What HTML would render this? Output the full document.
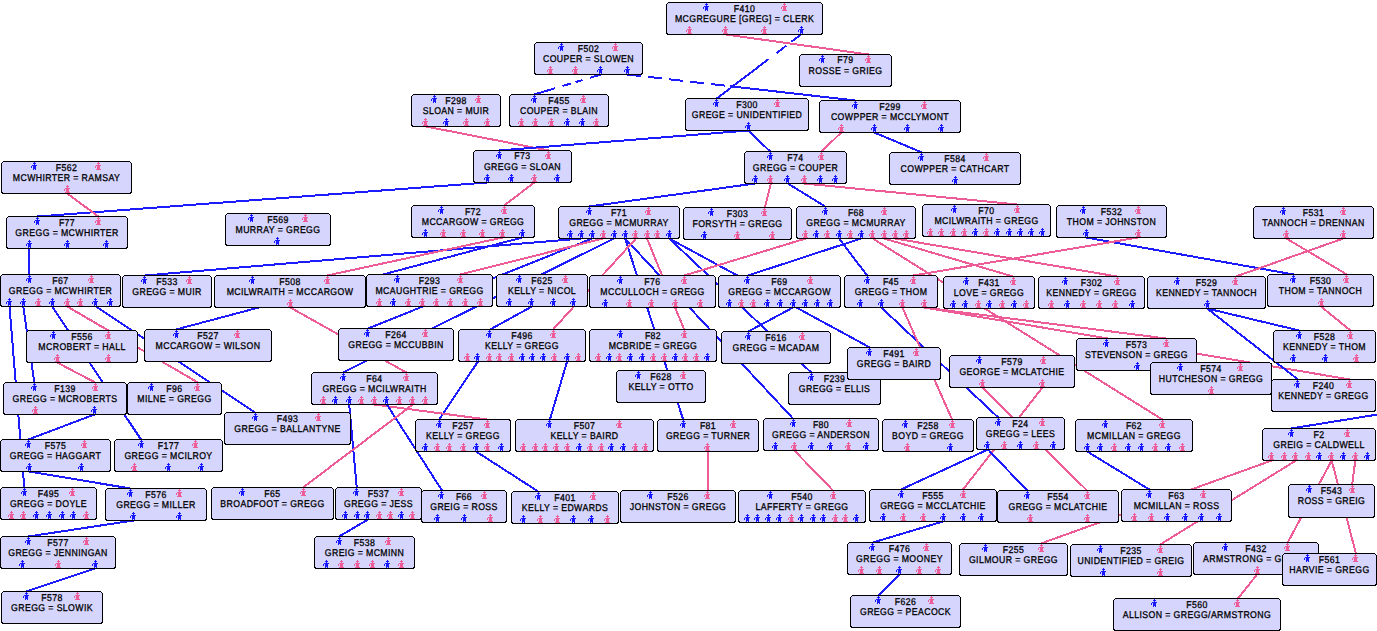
<!DOCTYPE html>
<html><head><meta charset="utf-8"><style>
html,body{margin:0;padding:0;background:#fff;width:1377px;height:631px;overflow:hidden}
text{text-rendering:geometricPrecision;font-family:"Liberation Sans",sans-serif;font-weight:normal;stroke:#000;stroke-width:0.3px;letter-spacing:0.45px;font-size:9.8px;fill:#000}
</style></head><body>
<svg width="1377" height="631" viewBox="0 0 1377 631" style="position:absolute;left:0;top:0"><defs><path id="m" d="M3 0h1v1h-1zM2 1h3v1h-3zM3 2h1v1h-1zM1 3h5v1h-5zM0 4h1v1h-1zM2 4h3v1h-3zM0 5h1v1h-1zM2 5h3v1h-3zM2 6h3v1h-3zM2 7h1v1h-1zM4 7h1v1h-1z" fill="#1818ff"/><path id="f" d="M3 0h1v1h-1zM2 1h3v1h-3zM3 2h1v1h-1zM1 3h5v1h-5zM0 4h1v1h-1zM2 4h3v1h-3zM0 5h1v1h-1zM2 5h3v1h-3zM2 6h3v1h-3zM1 7h5v1h-5z" fill="#ee5c98"/></defs><g fill="none" stroke-width="2" stroke-linecap="butt" shape-rendering="crispEdges"><path d="M725.8 34.5L868.5 54.5" stroke="#ee5c98"/><path d="M801.0 34.5L716.7 98.5" stroke="#1c1cff" stroke-dasharray="12 6.5 12 10 400"/><path d="M627.2 74.5L855.3 100.5" stroke="#1c1cff" stroke-dasharray="13.7 7.4 13.7 7.4 13.7 7.4 13.7 7.4 13.7 5.5 400"/><path d="M600.8 74.5L534.3 94.5" stroke="#1c1cff" stroke-dasharray="11.5 7.5 7.5 5 8.6 7.5 30"/><path d="M426.0 126.5L548.7 150.5" stroke="#ee5c98"/><path d="M748.1 130.5L499.2 150.5" stroke="#1c1cff"/><path d="M748.1 130.5L770.2 151.5" stroke="#1c1cff"/><path d="M841.2 132.5L821.6 151.5" stroke="#ee5c98"/><path d="M874.3 132.5L922.0 152.5" stroke="#1c1cff"/><path d="M487.5 182.5L37.5 216.5" stroke="#1c1cff"/><path d="M534.3 182.5L504.1 205.5" stroke="#ee5c98"/><path d="M67.2 193.5L98.4 216.5" stroke="#ee5c98"/><path d="M755.0 183.5L589.2 206.5" stroke="#1c1cff"/><path d="M770.9 183.5L764.8 207.5" stroke="#ee5c98"/><path d="M787.8 183.5L825.2 206.5" stroke="#1c1cff"/><path d="M804.3 183.5L1017.3 204.5" stroke="#ee5c98"/><path d="M29.2 248.5L29.3 274.5" stroke="#1c1cff"/><path d="M581.4 238.5L144.9 275.5" stroke="#1c1cff"/><path d="M592.2 238.5L368.0 328.5" stroke="#1c1cff"/><path d="M603.2 238.5L460.3 274.5" stroke="#ee5c98"/><path d="M614.1 238.5L343.0 372.5" stroke="#1c1cff"/><path d="M625.1 238.5L683.1 419.5" stroke="#1c1cff"/><path d="M625.1 238.5L793.0 418.5" stroke="#1c1cff"/><path d="M636.0 238.5L553.0 329.5" stroke="#ee5c98"/><path d="M647.0 238.5L684.1 329.5" stroke="#ee5c98"/><path d="M669.2 238.5L811.2 372.5" stroke="#1c1cff"/><path d="M669.2 238.5L869.9 347.5" stroke="#1c1cff"/><path d="M502.9 237.5L327.1 275.5" stroke="#ee5c98"/><path d="M522.2 237.5L176.1 329.5" stroke="#1c1cff"/><path d="M805.8 238.5L684.4 275.5" stroke="#ee5c98"/><path d="M839.0 238.5L867.1 275.5" stroke="#1c1cff"/><path d="M861.1 238.5L748.0 275.5" stroke="#1c1cff"/><path d="M884.1 238.5L1013.1 276.5" stroke="#ee5c98"/><path d="M895.1 238.5L1117.1 276.5" stroke="#ee5c98"/><path d="M1086.1 237.5L1293.8 274.5" stroke="#1c1cff"/><path d="M1138.2 237.5L913.2 275.5" stroke="#ee5c98"/><path d="M1286.4 238.5L1346.9 274.5" stroke="#ee5c98"/><path d="M1343.2 238.5L1235.8 276.5" stroke="#ee5c98"/><path d="M9.5 306.5L24.3 487.5" stroke="#1c1cff"/><path d="M23.3 306.5L34.3 382.5" stroke="#1c1cff"/><path d="M52.1 306.5L141.0 439.5" stroke="#1c1cff"/><path d="M67.2 306.5L108.2 330.5" stroke="#ee5c98"/><path d="M67.2 306.5L197.9 382.5" stroke="#ee5c98"/><path d="M96.0 306.5L255.1 412.5" stroke="#1c1cff"/><path d="M290.3 307.5L406.3 372.5" stroke="#ee5c98"/><path d="M532.0 306.5L490.0 329.5" stroke="#1c1cff"/><path d="M793.1 307.5L748.2 331.5" stroke="#1c1cff"/><path d="M881.3 307.5L998.2 417.5" stroke="#1c1cff"/><path d="M902.4 307.5L952.1 419.5" stroke="#ee5c98"/><path d="M924.1 307.5L1166.1 338.5" stroke="#ee5c98"/><path d="M924.1 307.5L1350.0 379.5" stroke="#ee5c98"/><path d="M872.8 238.5L1162.3 419.5" stroke="#ee5c98"/><path d="M1207.1 308.5L1299.2 330.5" stroke="#1c1cff"/><path d="M1207.1 308.5L1298.0 379.5" stroke="#1c1cff"/><path d="M1321.0 306.5L1350.4 330.5" stroke="#ee5c98"/><path d="M57.1 362.5L95.2 382.5" stroke="#ee5c98"/><path d="M478.0 361.5L439.2 419.5" stroke="#1c1cff"/><path d="M567.1 361.5L549.9 419.5" stroke="#1c1cff"/><path d="M982.3 387.5L1087.0 490.5" stroke="#ee5c98"/><path d="M1042.4 387.5L963.0 489.5" stroke="#ee5c98"/><path d="M349.2 404.5L356.7 487.5" stroke="#1c1cff"/><path d="M374.2 404.5L487.0 419.5" stroke="#ee5c98"/><path d="M386.9 404.5L442.0 490.5" stroke="#1c1cff"/><path d="M412.8 404.5L303.1 487.5" stroke="#ee5c98"/><path d="M94.5 414.5L28.3 439.5" stroke="#1c1cff"/><path d="M476.1 451.5L538.2 491.5" stroke="#1c1cff"/><path d="M708.0 451.5L708.0 490.5" stroke="#ee5c98"/><path d="M794.3 450.5L833.0 490.5" stroke="#ee5c98"/><path d="M988.0 449.5L901.0 489.5" stroke="#1c1cff"/><path d="M988.0 449.5L1027.1 490.5" stroke="#1c1cff"/><path d="M1087.2 451.5L1149.3 489.5" stroke="#1c1cff"/><path d="M1271.8 460.5L1041.0 543.5" stroke="#ee5c98"/><path d="M1296.0 460.5L1160.2 544.5" stroke="#ee5c98"/><path d="M1331.7 460.5L1287.7 542.5" stroke="#ee5c98"/><path d="M1331.7 460.5L1355.9 553.5" stroke="#ee5c98"/><path d="M1355.3 460.5L1352.2 484.5" stroke="#ee5c98"/><path d="M1400.0 410.9L1291.0 428.5" stroke="#1c1cff"/><path d="M29.3 471.5L130.3 488.5" stroke="#1c1cff"/><path d="M133.5 520.5L28.3 536.5" stroke="#1c1cff"/><path d="M368.0 519.5L339.1 536.5" stroke="#1c1cff"/><path d="M943.0 521.5L872.9 542.5" stroke="#1c1cff"/><path d="M899.9 574.5L878.1 595.5" stroke="#1c1cff"/><path d="M1257.0 574.5L1237.9 598.5" stroke="#ee5c98"/><path d="M95.2 568.5L26.3 591.5" stroke="#1c1cff"/></g><rect x="666.5" y="2.5" width="156" height="32" rx="3" fill="#d5d5fd" stroke="#000" stroke-width="1" shape-rendering="crispEdges"/><text x="744.5" y="12.0" transform="matrix(0.89,0,0,1,81.89,0)" text-anchor="middle">F410</text><text x="744.5" y="22.0" transform="matrix(0.89,0,0,1,81.89,0)" text-anchor="middle">MCGREGURE [GREG] = CLERK</text><use href="#m" x="703" y="3"/><use href="#f" x="781" y="3"/><use href="#f" x="686" y="26"/><use href="#f" x="722" y="26"/><use href="#f" x="761" y="26"/><use href="#m" x="798" y="26"/><rect x="534.5" y="42.5" width="108" height="32" rx="3" fill="#d5d5fd" stroke="#000" stroke-width="1" shape-rendering="crispEdges"/><text x="588.5" y="52.0" transform="matrix(0.89,0,0,1,64.73,0)" text-anchor="middle">F502</text><text x="588.5" y="62.0" transform="matrix(0.89,0,0,1,64.73,0)" text-anchor="middle">COUPER = SLOWEN</text><use href="#m" x="558" y="43"/><use href="#f" x="612" y="43"/><use href="#f" x="547" y="66"/><use href="#f" x="572" y="66"/><use href="#m" x="597" y="66"/><use href="#m" x="624" y="66"/><rect x="799.5" y="54.5" width="92" height="32" rx="3" fill="#d5d5fd" stroke="#000" stroke-width="1" shape-rendering="crispEdges"/><text x="845.5" y="63.0" transform="matrix(0.89,0,0,1,93.00,0)" text-anchor="middle">F79</text><text x="845.5" y="74.0" transform="matrix(0.89,0,0,1,93.00,0)" text-anchor="middle">ROSSE = GRIEG</text><use href="#m" x="819" y="55"/><use href="#f" x="865" y="55"/><rect x="411.5" y="94.5" width="89" height="32" rx="3" fill="#d5d5fd" stroke="#000" stroke-width="1" shape-rendering="crispEdges"/><text x="456.0" y="104.0" transform="matrix(0.89,0,0,1,50.16,0)" text-anchor="middle">F298</text><text x="456.0" y="114.0" transform="matrix(0.89,0,0,1,50.16,0)" text-anchor="middle">SLOAN = MUIR</text><use href="#m" x="431" y="95"/><use href="#f" x="475" y="95"/><use href="#f" x="422" y="118"/><use href="#m" x="443" y="118"/><use href="#f" x="463" y="118"/><use href="#f" x="484" y="118"/><rect x="509.5" y="94.5" width="99" height="32" rx="3" fill="#d5d5fd" stroke="#000" stroke-width="1" shape-rendering="crispEdges"/><text x="559.0" y="104.0" transform="matrix(0.89,0,0,1,61.49,0)" text-anchor="middle">F455</text><text x="559.0" y="114.0" transform="matrix(0.89,0,0,1,61.49,0)" text-anchor="middle">COUPER = BLAIN</text><use href="#m" x="531" y="95"/><use href="#f" x="580" y="95"/><use href="#f" x="518" y="118"/><use href="#f" x="532" y="118"/><use href="#f" x="548" y="118"/><use href="#m" x="564" y="118"/><use href="#m" x="579" y="118"/><use href="#f" x="593" y="118"/><rect x="685.5" y="98.5" width="123" height="32" rx="3" fill="#d5d5fd" stroke="#000" stroke-width="1" shape-rendering="crispEdges"/><text x="747.0" y="108.0" transform="matrix(0.89,0,0,1,82.17,0)" text-anchor="middle">F300</text><text x="747.0" y="118.0" transform="matrix(0.89,0,0,1,82.17,0)" text-anchor="middle">GREGE = UNIDENTIFIED</text><use href="#m" x="713" y="99"/><use href="#f" x="774" y="99"/><use href="#m" x="745" y="122"/><rect x="819.5" y="100.5" width="141" height="32" rx="3" fill="#d5d5fd" stroke="#000" stroke-width="1" shape-rendering="crispEdges"/><text x="890.0" y="110.0" transform="matrix(0.89,0,0,1,97.90,0)" text-anchor="middle">F299</text><text x="890.0" y="120.0" transform="matrix(0.89,0,0,1,97.90,0)" text-anchor="middle">COWPPER = MCCLYMONT</text><use href="#m" x="852" y="101"/><use href="#f" x="921" y="101"/><use href="#f" x="838" y="124"/><use href="#m" x="871" y="124"/><use href="#m" x="904" y="124"/><use href="#m" x="938" y="124"/><rect x="473.5" y="150.5" width="98" height="32" rx="3" fill="#d5d5fd" stroke="#000" stroke-width="1" shape-rendering="crispEdges"/><text x="522.5" y="159.0" transform="matrix(0.89,0,0,1,57.47,0)" text-anchor="middle">F73</text><text x="522.5" y="170.0" transform="matrix(0.89,0,0,1,57.47,0)" text-anchor="middle">GREGG = SLOAN</text><use href="#m" x="496" y="151"/><use href="#f" x="545" y="151"/><use href="#m" x="484" y="174"/><use href="#m" x="508" y="174"/><use href="#f" x="531" y="174"/><use href="#m" x="554" y="174"/><rect x="744.5" y="151.5" width="102" height="32" rx="3" fill="#d5d5fd" stroke="#000" stroke-width="1" shape-rendering="crispEdges"/><text x="795.5" y="161.0" transform="matrix(0.89,0,0,1,87.50,0)" text-anchor="middle">F74</text><text x="795.5" y="171.0" transform="matrix(0.89,0,0,1,87.50,0)" text-anchor="middle">GREGG = COUPER</text><use href="#m" x="767" y="152"/><use href="#f" x="818" y="152"/><use href="#m" x="752" y="175"/><use href="#f" x="767" y="175"/><use href="#m" x="784" y="175"/><use href="#f" x="801" y="175"/><use href="#m" x="817" y="175"/><use href="#m" x="832" y="175"/><rect x="889.5" y="152.5" width="131" height="32" rx="3" fill="#d5d5fd" stroke="#000" stroke-width="1" shape-rendering="crispEdges"/><text x="955.0" y="162.0" transform="matrix(0.89,0,0,1,105.05,0)" text-anchor="middle">F584</text><text x="955.0" y="172.0" transform="matrix(0.89,0,0,1,105.05,0)" text-anchor="middle">COWPPER = CATHCART</text><use href="#m" x="918" y="153"/><use href="#f" x="983" y="153"/><use href="#m" x="952" y="176"/><rect x="1.5" y="161.5" width="130" height="32" rx="3" fill="#d5d5fd" stroke="#000" stroke-width="1" shape-rendering="crispEdges"/><text x="66.5" y="171.0" transform="matrix(0.89,0,0,1,7.31,0)" text-anchor="middle">F562</text><text x="66.5" y="181.0" transform="matrix(0.89,0,0,1,7.31,0)" text-anchor="middle">MCWHIRTER = RAMSAY</text><use href="#m" x="31" y="162"/><use href="#f" x="95" y="162"/><use href="#f" x="64" y="185"/><rect x="6.5" y="216.5" width="121" height="32" rx="3" fill="#d5d5fd" stroke="#000" stroke-width="1" shape-rendering="crispEdges"/><text x="67.0" y="226.0" transform="matrix(0.89,0,0,1,7.37,0)" text-anchor="middle">F77</text><text x="67.0" y="236.0" transform="matrix(0.89,0,0,1,7.37,0)" text-anchor="middle">GREGG = MCWHIRTER</text><use href="#m" x="34" y="217"/><use href="#f" x="95" y="217"/><use href="#m" x="26" y="240"/><use href="#m" x="64" y="240"/><use href="#m" x="103" y="240"/><rect x="225.5" y="213.5" width="105" height="32" rx="3" fill="#d5d5fd" stroke="#000" stroke-width="1" shape-rendering="crispEdges"/><text x="278.0" y="223.0" transform="matrix(0.89,0,0,1,30.58,0)" text-anchor="middle">F569</text><text x="278.0" y="233.0" transform="matrix(0.89,0,0,1,30.58,0)" text-anchor="middle">MURRAY = GREGG</text><use href="#m" x="248" y="214"/><use href="#f" x="302" y="214"/><use href="#m" x="274" y="237"/><rect x="411.5" y="205.5" width="123" height="32" rx="3" fill="#d5d5fd" stroke="#000" stroke-width="1" shape-rendering="crispEdges"/><text x="473.0" y="215.0" transform="matrix(0.89,0,0,1,52.03,0)" text-anchor="middle">F72</text><text x="473.0" y="225.0" transform="matrix(0.89,0,0,1,52.03,0)" text-anchor="middle">MCCARGOW = GREGG</text><use href="#m" x="438" y="206"/><use href="#f" x="501" y="206"/><use href="#m" x="422" y="229"/><use href="#f" x="440" y="229"/><use href="#f" x="460" y="229"/><use href="#f" x="479" y="229"/><use href="#f" x="499" y="229"/><use href="#m" x="519" y="229"/><rect x="558.5" y="206.5" width="121" height="32" rx="3" fill="#d5d5fd" stroke="#000" stroke-width="1" shape-rendering="crispEdges"/><text x="619.0" y="216.0" transform="matrix(0.89,0,0,1,68.09,0)" text-anchor="middle">F71</text><text x="619.0" y="226.0" transform="matrix(0.89,0,0,1,68.09,0)" text-anchor="middle">GREGG = MCMURRAY</text><use href="#m" x="586" y="207"/><use href="#f" x="645" y="207"/><use href="#m" x="567" y="230"/><use href="#m" x="578" y="230"/><use href="#m" x="589" y="230"/><use href="#f" x="600" y="230"/><use href="#m" x="611" y="230"/><use href="#m" x="622" y="230"/><use href="#f" x="632" y="230"/><use href="#f" x="644" y="230"/><use href="#f" x="654" y="230"/><use href="#m" x="666" y="230"/><rect x="683.5" y="207.5" width="108" height="32" rx="3" fill="#d5d5fd" stroke="#000" stroke-width="1" shape-rendering="crispEdges"/><text x="737.5" y="217.0" transform="matrix(0.89,0,0,1,81.12,0)" text-anchor="middle">F303</text><text x="737.5" y="227.0" transform="matrix(0.89,0,0,1,81.12,0)" text-anchor="middle">FORSYTH = GREGG</text><use href="#m" x="708" y="208"/><use href="#f" x="761" y="208"/><use href="#m" x="701" y="231"/><use href="#f" x="734" y="231"/><use href="#f" x="769" y="231"/><rect x="796.5" y="206.5" width="119" height="32" rx="3" fill="#d5d5fd" stroke="#000" stroke-width="1" shape-rendering="crispEdges"/><text x="856.0" y="216.0" transform="matrix(0.89,0,0,1,94.16,0)" text-anchor="middle">F68</text><text x="856.0" y="226.0" transform="matrix(0.89,0,0,1,94.16,0)" text-anchor="middle">GREGG = MCMURRAY</text><use href="#m" x="822" y="207"/><use href="#f" x="881" y="207"/><use href="#f" x="802" y="230"/><use href="#m" x="813" y="230"/><use href="#f" x="824" y="230"/><use href="#m" x="836" y="230"/><use href="#f" x="847" y="230"/><use href="#m" x="858" y="230"/><use href="#f" x="869" y="230"/><use href="#f" x="881" y="230"/><use href="#f" x="892" y="230"/><use href="#f" x="903" y="230"/><rect x="922.5" y="204.5" width="128" height="32" rx="3" fill="#d5d5fd" stroke="#000" stroke-width="1" shape-rendering="crispEdges"/><text x="986.5" y="214.0" transform="matrix(0.89,0,0,1,108.51,0)" text-anchor="middle">F70</text><text x="986.5" y="224.0" transform="matrix(0.89,0,0,1,108.51,0)" text-anchor="middle">MCILWRAITH = GREGG</text><use href="#m" x="951" y="205"/><use href="#f" x="1014" y="205"/><use href="#f" x="927" y="228"/><use href="#f" x="938" y="228"/><use href="#f" x="950" y="228"/><use href="#f" x="961" y="228"/><use href="#m" x="972" y="228"/><use href="#f" x="983" y="228"/><use href="#m" x="994" y="228"/><use href="#m" x="1006" y="228"/><use href="#m" x="1017" y="228"/><use href="#m" x="1028" y="228"/><use href="#m" x="1039" y="228"/><rect x="1056.5" y="205.5" width="110" height="32" rx="3" fill="#d5d5fd" stroke="#000" stroke-width="1" shape-rendering="crispEdges"/><text x="1111.5" y="215.0" transform="matrix(0.89,0,0,1,122.26,0)" text-anchor="middle">F532</text><text x="1111.5" y="225.0" transform="matrix(0.89,0,0,1,122.26,0)" text-anchor="middle">THOM = JOHNSTON</text><use href="#m" x="1080" y="206"/><use href="#f" x="1135" y="206"/><use href="#m" x="1083" y="229"/><use href="#f" x="1135" y="229"/><rect x="1253.5" y="206.5" width="120" height="32" rx="3" fill="#d5d5fd" stroke="#000" stroke-width="1" shape-rendering="crispEdges"/><text x="1313.5" y="216.0" transform="matrix(0.89,0,0,1,144.48,0)" text-anchor="middle">F531</text><text x="1313.5" y="226.0" transform="matrix(0.89,0,0,1,144.48,0)" text-anchor="middle">TANNOCH = DRENNAN</text><use href="#m" x="1280" y="207"/><use href="#f" x="1340" y="207"/><use href="#f" x="1283" y="230"/><use href="#f" x="1340" y="230"/><rect x="0.5" y="274.5" width="120" height="32" rx="3" fill="#d5d5fd" stroke="#000" stroke-width="1" shape-rendering="crispEdges"/><text x="60.5" y="284.0" transform="matrix(0.89,0,0,1,6.65,0)" text-anchor="middle">F67</text><text x="60.5" y="294.0" transform="matrix(0.89,0,0,1,6.65,0)" text-anchor="middle">GREGG = MCWHIRTER</text><use href="#m" x="26" y="275"/><use href="#f" x="88" y="275"/><use href="#m" x="6" y="298"/><use href="#m" x="20" y="298"/><use href="#f" x="35" y="298"/><use href="#m" x="49" y="298"/><use href="#f" x="64" y="298"/><use href="#f" x="77" y="298"/><use href="#m" x="92" y="298"/><use href="#m" x="107" y="298"/><rect x="122.5" y="275.5" width="89" height="32" rx="3" fill="#d5d5fd" stroke="#000" stroke-width="1" shape-rendering="crispEdges"/><text x="167.0" y="285.0" transform="matrix(0.89,0,0,1,18.37,0)" text-anchor="middle">F533</text><text x="167.0" y="295.0" transform="matrix(0.89,0,0,1,18.37,0)" text-anchor="middle">GREGG = MUIR</text><use href="#m" x="141" y="276"/><use href="#f" x="186" y="276"/><rect x="214.5" y="275.5" width="151" height="32" rx="3" fill="#d5d5fd" stroke="#000" stroke-width="1" shape-rendering="crispEdges"/><text x="290.0" y="285.0" transform="matrix(0.89,0,0,1,31.90,0)" text-anchor="middle">F508</text><text x="290.0" y="295.0" transform="matrix(0.89,0,0,1,31.90,0)" text-anchor="middle">MCILWRAITH = MCCARGOW</text><use href="#m" x="249" y="276"/><use href="#f" x="324" y="276"/><use href="#f" x="287" y="299"/><rect x="366.5" y="274.5" width="126" height="32" rx="3" fill="#d5d5fd" stroke="#000" stroke-width="1" shape-rendering="crispEdges"/><text x="429.5" y="284.0" transform="matrix(0.89,0,0,1,47.24,0)" text-anchor="middle">F293</text><text x="429.5" y="294.0" transform="matrix(0.89,0,0,1,47.24,0)" text-anchor="middle">MCAUGHTRIE = GREGG</text><use href="#m" x="394" y="275"/><use href="#f" x="457" y="275"/><use href="#f" x="376" y="298"/><use href="#m" x="390" y="298"/><use href="#f" x="405" y="298"/><use href="#f" x="419" y="298"/><use href="#f" x="433" y="298"/><use href="#f" x="447" y="298"/><use href="#f" x="462" y="298"/><use href="#f" x="477" y="298"/><rect x="496.5" y="274.5" width="91" height="32" rx="3" fill="#d5d5fd" stroke="#000" stroke-width="1" shape-rendering="crispEdges"/><text x="542.0" y="284.0" transform="matrix(0.89,0,0,1,59.62,0)" text-anchor="middle">F625</text><text x="542.0" y="294.0" transform="matrix(0.89,0,0,1,59.62,0)" text-anchor="middle">KELLY = NICOL</text><use href="#m" x="516" y="275"/><use href="#f" x="562" y="275"/><use href="#m" x="506" y="298"/><use href="#m" x="528" y="298"/><use href="#m" x="550" y="298"/><use href="#m" x="570" y="298"/><rect x="589.5" y="275.5" width="126" height="32" rx="3" fill="#d5d5fd" stroke="#000" stroke-width="1" shape-rendering="crispEdges"/><text x="652.5" y="285.0" transform="matrix(0.89,0,0,1,71.77,0)" text-anchor="middle">F76</text><text x="652.5" y="295.0" transform="matrix(0.89,0,0,1,71.77,0)" text-anchor="middle">MCCULLOCH = GREGG</text><use href="#m" x="617" y="276"/><use href="#f" x="681" y="276"/><use href="#m" x="602" y="299"/><use href="#f" x="626" y="299"/><use href="#f" x="648" y="299"/><use href="#f" x="672" y="299"/><use href="#f" x="697" y="299"/><rect x="718.5" y="275.5" width="122" height="32" rx="3" fill="#d5d5fd" stroke="#000" stroke-width="1" shape-rendering="crispEdges"/><text x="779.5" y="285.0" transform="matrix(0.89,0,0,1,85.74,0)" text-anchor="middle">F69</text><text x="779.5" y="295.0" transform="matrix(0.89,0,0,1,85.74,0)" text-anchor="middle">GREGG = MCCARGOW</text><use href="#m" x="744" y="276"/><use href="#f" x="807" y="276"/><use href="#m" x="726" y="299"/><use href="#f" x="738" y="299"/><use href="#f" x="750" y="299"/><use href="#m" x="764" y="299"/><use href="#m" x="777" y="299"/><use href="#m" x="790" y="299"/><use href="#m" x="802" y="299"/><use href="#m" x="814" y="299"/><use href="#m" x="827" y="299"/><rect x="844.5" y="275.5" width="93" height="32" rx="3" fill="#d5d5fd" stroke="#000" stroke-width="1" shape-rendering="crispEdges"/><text x="891.0" y="285.0" transform="matrix(0.89,0,0,1,98.01,0)" text-anchor="middle">F45</text><text x="891.0" y="295.0" transform="matrix(0.89,0,0,1,98.01,0)" text-anchor="middle">GREGG = THOM</text><use href="#m" x="864" y="276"/><use href="#f" x="910" y="276"/><use href="#m" x="857" y="299"/><use href="#m" x="878" y="299"/><use href="#f" x="899" y="299"/><use href="#f" x="921" y="299"/><rect x="943.5" y="276.5" width="91" height="32" rx="3" fill="#d5d5fd" stroke="#000" stroke-width="1" shape-rendering="crispEdges"/><text x="989.0" y="286.0" transform="matrix(0.89,0,0,1,108.79,0)" text-anchor="middle">F431</text><text x="989.0" y="296.0" transform="matrix(0.89,0,0,1,108.79,0)" text-anchor="middle">LOVE = GREGG</text><use href="#m" x="963" y="277"/><use href="#f" x="1010" y="277"/><use href="#m" x="950" y="300"/><use href="#m" x="962" y="300"/><use href="#f" x="975" y="300"/><use href="#m" x="986" y="300"/><use href="#f" x="999" y="300"/><use href="#m" x="1011" y="300"/><use href="#f" x="1023" y="300"/><rect x="1038.5" y="276.5" width="106" height="32" rx="3" fill="#d5d5fd" stroke="#000" stroke-width="1" shape-rendering="crispEdges"/><text x="1091.5" y="286.0" transform="matrix(0.89,0,0,1,120.06,0)" text-anchor="middle">F302</text><text x="1091.5" y="296.0" transform="matrix(0.89,0,0,1,120.06,0)" text-anchor="middle">KENNEDY = GREGG</text><use href="#m" x="1062" y="277"/><use href="#f" x="1114" y="277"/><use href="#f" x="1048" y="300"/><use href="#m" x="1064" y="300"/><use href="#f" x="1080" y="300"/><use href="#f" x="1096" y="300"/><use href="#f" x="1112" y="300"/><use href="#m" x="1129" y="300"/><rect x="1147.5" y="276.5" width="118" height="32" rx="3" fill="#d5d5fd" stroke="#000" stroke-width="1" shape-rendering="crispEdges"/><text x="1206.5" y="286.0" transform="matrix(0.89,0,0,1,132.71,0)" text-anchor="middle">F529</text><text x="1206.5" y="296.0" transform="matrix(0.89,0,0,1,132.71,0)" text-anchor="middle">KENNEDY = TANNOCH</text><use href="#m" x="1174" y="277"/><use href="#f" x="1232" y="277"/><use href="#m" x="1204" y="300"/><rect x="1267.5" y="274.5" width="106" height="32" rx="3" fill="#d5d5fd" stroke="#000" stroke-width="1" shape-rendering="crispEdges"/><text x="1320.5" y="284.0" transform="matrix(0.89,0,0,1,145.25,0)" text-anchor="middle">F530</text><text x="1320.5" y="294.0" transform="matrix(0.89,0,0,1,145.25,0)" text-anchor="middle">THOM = TANNOCH</text><use href="#m" x="1290" y="275"/><use href="#f" x="1343" y="275"/><use href="#f" x="1318" y="298"/><rect x="26.5" y="330.5" width="111" height="32" rx="3" fill="#d5d5fd" stroke="#000" stroke-width="1" shape-rendering="crispEdges"/><text x="82.0" y="340.0" transform="matrix(0.89,0,0,1,9.02,0)" text-anchor="middle">F556</text><text x="82.0" y="350.0" transform="matrix(0.89,0,0,1,9.02,0)" text-anchor="middle">MCROBERT = HALL</text><use href="#m" x="50" y="331"/><use href="#f" x="105" y="331"/><use href="#f" x="54" y="354"/><use href="#f" x="105" y="354"/><rect x="144.5" y="329.5" width="127" height="32" rx="3" fill="#d5d5fd" stroke="#000" stroke-width="1" shape-rendering="crispEdges"/><text x="208.0" y="339.0" transform="matrix(0.89,0,0,1,22.88,0)" text-anchor="middle">F527</text><text x="208.0" y="349.0" transform="matrix(0.89,0,0,1,22.88,0)" text-anchor="middle">MCCARGOW = WILSON</text><use href="#m" x="173" y="330"/><use href="#f" x="234" y="330"/><rect x="338.5" y="328.5" width="115" height="32" rx="3" fill="#d5d5fd" stroke="#000" stroke-width="1" shape-rendering="crispEdges"/><text x="396.0" y="338.0" transform="matrix(0.89,0,0,1,43.56,0)" text-anchor="middle">F264</text><text x="396.0" y="348.0" transform="matrix(0.89,0,0,1,43.56,0)" text-anchor="middle">GREGG = MCCUBBIN</text><use href="#m" x="364" y="329"/><use href="#f" x="422" y="329"/><rect x="458.5" y="329.5" width="127" height="32" rx="3" fill="#d5d5fd" stroke="#000" stroke-width="1" shape-rendering="crispEdges"/><text x="522.0" y="339.0" transform="matrix(0.89,0,0,1,57.42,0)" text-anchor="middle">F496</text><text x="522.0" y="349.0" transform="matrix(0.89,0,0,1,57.42,0)" text-anchor="middle">KELLY = GREGG</text><use href="#m" x="486" y="330"/><use href="#f" x="550" y="330"/><use href="#f" x="464" y="353"/><use href="#m" x="474" y="353"/><use href="#f" x="486" y="353"/><use href="#f" x="496" y="353"/><use href="#f" x="508" y="353"/><use href="#m" x="519" y="353"/><use href="#m" x="529" y="353"/><use href="#m" x="540" y="353"/><use href="#f" x="551" y="353"/><use href="#m" x="564" y="353"/><use href="#f" x="575" y="353"/><rect x="589.5" y="329.5" width="127" height="32" rx="3" fill="#d5d5fd" stroke="#000" stroke-width="1" shape-rendering="crispEdges"/><text x="653.0" y="339.0" transform="matrix(0.89,0,0,1,71.83,0)" text-anchor="middle">F82</text><text x="653.0" y="349.0" transform="matrix(0.89,0,0,1,71.83,0)" text-anchor="middle">MCBRIDE = GREGG</text><use href="#m" x="617" y="330"/><use href="#f" x="681" y="330"/><use href="#f" x="595" y="353"/><use href="#m" x="606" y="353"/><use href="#f" x="616" y="353"/><use href="#m" x="627" y="353"/><use href="#m" x="639" y="353"/><use href="#f" x="650" y="353"/><use href="#f" x="661" y="353"/><use href="#m" x="672" y="353"/><use href="#f" x="682" y="353"/><use href="#f" x="693" y="353"/><use href="#m" x="704" y="353"/><rect x="721.5" y="331.5" width="109" height="32" rx="3" fill="#d5d5fd" stroke="#000" stroke-width="1" shape-rendering="crispEdges"/><text x="776.0" y="341.0" transform="matrix(0.89,0,0,1,85.36,0)" text-anchor="middle">F616</text><text x="776.0" y="351.0" transform="matrix(0.89,0,0,1,85.36,0)" text-anchor="middle">GREGG = MCADAM</text><use href="#m" x="745" y="332"/><use href="#f" x="799" y="332"/><rect x="1273.5" y="330.5" width="102" height="32" rx="3" fill="#d5d5fd" stroke="#000" stroke-width="1" shape-rendering="crispEdges"/><text x="1324.5" y="340.0" transform="matrix(0.89,0,0,1,145.69,0)" text-anchor="middle">F528</text><text x="1324.5" y="350.0" transform="matrix(0.89,0,0,1,145.69,0)" text-anchor="middle">KENNEDY = THOM</text><use href="#m" x="1296" y="331"/><use href="#f" x="1347" y="331"/><use href="#m" x="1290" y="354"/><use href="#m" x="1322" y="354"/><use href="#f" x="1353" y="354"/><rect x="1076.5" y="338.5" width="120" height="32" rx="3" fill="#d5d5fd" stroke="#000" stroke-width="1" shape-rendering="crispEdges"/><text x="1136.5" y="348.0" transform="matrix(0.89,0,0,1,125.01,0)" text-anchor="middle">F573</text><text x="1136.5" y="358.0" transform="matrix(0.89,0,0,1,125.01,0)" text-anchor="middle">STEVENSON = GREGG</text><use href="#m" x="1103" y="339"/><use href="#f" x="1163" y="339"/><use href="#m" x="1134" y="362"/><rect x="788.5" y="372.5" width="92" height="32" rx="3" fill="#d5d5fd" stroke="#000" stroke-width="1" shape-rendering="crispEdges"/><text x="834.5" y="382.0" transform="matrix(0.89,0,0,1,91.79,0)" text-anchor="middle">F239</text><text x="834.5" y="392.0" transform="matrix(0.89,0,0,1,91.79,0)" text-anchor="middle">GREGG = ELLIS</text><use href="#m" x="808" y="373"/><rect x="847.5" y="347.5" width="93" height="32" rx="3" fill="#d5d5fd" stroke="#000" stroke-width="1" shape-rendering="crispEdges"/><text x="894.0" y="357.0" transform="matrix(0.89,0,0,1,98.34,0)" text-anchor="middle">F491</text><text x="894.0" y="367.0" transform="matrix(0.89,0,0,1,98.34,0)" text-anchor="middle">GREGG = BAIRD</text><use href="#m" x="866" y="348"/><use href="#f" x="913" y="348"/><rect x="949.5" y="355.5" width="125" height="32" rx="3" fill="#d5d5fd" stroke="#000" stroke-width="1" shape-rendering="crispEdges"/><text x="1012.0" y="365.0" transform="matrix(0.89,0,0,1,111.32,0)" text-anchor="middle">F579</text><text x="1012.0" y="375.0" transform="matrix(0.89,0,0,1,111.32,0)" text-anchor="middle">GEORGE = MCLATCHIE</text><use href="#m" x="976" y="356"/><use href="#f" x="1040" y="356"/><use href="#f" x="979" y="379"/><use href="#f" x="1039" y="379"/><rect x="1150.5" y="362.5" width="121" height="32" rx="3" fill="#d5d5fd" stroke="#000" stroke-width="1" shape-rendering="crispEdges"/><text x="1211.0" y="372.0" transform="matrix(0.89,0,0,1,133.21,0)" text-anchor="middle">F574</text><text x="1211.0" y="382.0" transform="matrix(0.89,0,0,1,133.21,0)" text-anchor="middle">HUTCHESON = GREGG</text><use href="#m" x="1177" y="363"/><use href="#f" x="1237" y="363"/><use href="#f" x="1208" y="386"/><rect x="311.5" y="372.5" width="126" height="32" rx="3" fill="#d5d5fd" stroke="#000" stroke-width="1" shape-rendering="crispEdges"/><text x="374.5" y="382.0" transform="matrix(0.89,0,0,1,41.19,0)" text-anchor="middle">F64</text><text x="374.5" y="392.0" transform="matrix(0.89,0,0,1,41.19,0)" text-anchor="middle">GREGG = MCILWRAITH</text><use href="#m" x="340" y="373"/><use href="#f" x="403" y="373"/><use href="#f" x="320" y="396"/><use href="#m" x="332" y="396"/><use href="#m" x="346" y="396"/><use href="#f" x="358" y="396"/><use href="#f" x="371" y="396"/><use href="#m" x="383" y="396"/><use href="#f" x="396" y="396"/><use href="#f" x="409" y="396"/><use href="#f" x="422" y="396"/><rect x="616.5" y="370.5" width="89" height="32" rx="3" fill="#d5d5fd" stroke="#000" stroke-width="1" shape-rendering="crispEdges"/><text x="661.0" y="380.0" transform="matrix(0.89,0,0,1,72.71,0)" text-anchor="middle">F628</text><text x="661.0" y="390.0" transform="matrix(0.89,0,0,1,72.71,0)" text-anchor="middle">KELLY = OTTO</text><use href="#m" x="635" y="371"/><use href="#f" x="680" y="371"/><rect x="1271.5" y="379.5" width="104" height="32" rx="3" fill="#d5d5fd" stroke="#000" stroke-width="1" shape-rendering="crispEdges"/><text x="1323.5" y="389.0" transform="matrix(0.89,0,0,1,145.58,0)" text-anchor="middle">F240</text><text x="1323.5" y="399.0" transform="matrix(0.89,0,0,1,145.58,0)" text-anchor="middle">KENNEDY = GREGG</text><use href="#m" x="1294" y="380"/><use href="#f" x="1346" y="380"/><rect x="3.5" y="382.5" width="123" height="32" rx="3" fill="#d5d5fd" stroke="#000" stroke-width="1" shape-rendering="crispEdges"/><text x="65.0" y="392.0" transform="matrix(0.89,0,0,1,7.15,0)" text-anchor="middle">F139</text><text x="65.0" y="402.0" transform="matrix(0.89,0,0,1,7.15,0)" text-anchor="middle">GREGG = MCROBERTS</text><use href="#m" x="31" y="383"/><use href="#f" x="92" y="383"/><use href="#f" x="32" y="406"/><use href="#m" x="91" y="406"/><rect x="127.5" y="382.5" width="94" height="32" rx="3" fill="#d5d5fd" stroke="#000" stroke-width="1" shape-rendering="crispEdges"/><text x="174.5" y="392.0" transform="matrix(0.89,0,0,1,19.19,0)" text-anchor="middle">F96</text><text x="174.5" y="402.0" transform="matrix(0.89,0,0,1,19.19,0)" text-anchor="middle">MILNE = GREGG</text><use href="#m" x="148" y="383"/><use href="#f" x="194" y="383"/><rect x="224.5" y="412.5" width="126" height="32" rx="3" fill="#d5d5fd" stroke="#000" stroke-width="1" shape-rendering="crispEdges"/><text x="287.5" y="422.0" transform="matrix(0.89,0,0,1,31.62,0)" text-anchor="middle">F493</text><text x="287.5" y="432.0" transform="matrix(0.89,0,0,1,31.62,0)" text-anchor="middle">GREGG = BALLANTYNE</text><use href="#m" x="252" y="413"/><use href="#f" x="315" y="413"/><rect x="415.5" y="419.5" width="95" height="32" rx="3" fill="#d5d5fd" stroke="#000" stroke-width="1" shape-rendering="crispEdges"/><text x="463.0" y="429.0" transform="matrix(0.89,0,0,1,50.93,0)" text-anchor="middle">F257</text><text x="463.0" y="439.0" transform="matrix(0.89,0,0,1,50.93,0)" text-anchor="middle">KELLY = GREGG</text><use href="#m" x="436" y="420"/><use href="#f" x="484" y="420"/><use href="#m" x="422" y="443"/><use href="#f" x="434" y="443"/><use href="#f" x="446" y="443"/><use href="#f" x="460" y="443"/><use href="#m" x="473" y="443"/><use href="#f" x="484" y="443"/><use href="#m" x="498" y="443"/><rect x="515.5" y="419.5" width="138" height="32" rx="3" fill="#d5d5fd" stroke="#000" stroke-width="1" shape-rendering="crispEdges"/><text x="584.5" y="429.0" transform="matrix(0.89,0,0,1,64.29,0)" text-anchor="middle">F507</text><text x="584.5" y="439.0" transform="matrix(0.89,0,0,1,64.29,0)" text-anchor="middle">KELLY = BAIRD</text><use href="#m" x="546" y="420"/><use href="#f" x="616" y="420"/><use href="#f" x="520" y="443"/><use href="#f" x="532" y="443"/><use href="#f" x="542" y="443"/><use href="#f" x="553" y="443"/><use href="#f" x="564" y="443"/><use href="#m" x="576" y="443"/><use href="#f" x="587" y="443"/><use href="#f" x="598" y="443"/><use href="#m" x="608" y="443"/><use href="#m" x="620" y="443"/><use href="#f" x="632" y="443"/><use href="#f" x="642" y="443"/><rect x="657.5" y="419.5" width="101" height="32" rx="3" fill="#d5d5fd" stroke="#000" stroke-width="1" shape-rendering="crispEdges"/><text x="708.0" y="429.0" transform="matrix(0.89,0,0,1,77.88,0)" text-anchor="middle">F81</text><text x="708.0" y="439.0" transform="matrix(0.89,0,0,1,77.88,0)" text-anchor="middle">GREGG = TURNER</text><use href="#m" x="680" y="420"/><use href="#f" x="730" y="420"/><use href="#f" x="704" y="443"/><rect x="763.5" y="418.5" width="115" height="32" rx="3" fill="#d5d5fd" stroke="#000" stroke-width="1" shape-rendering="crispEdges"/><text x="821.0" y="428.0" transform="matrix(0.89,0,0,1,90.31,0)" text-anchor="middle">F80</text><text x="821.0" y="438.0" transform="matrix(0.89,0,0,1,90.31,0)" text-anchor="middle">GREGG = ANDERSON</text><use href="#m" x="790" y="419"/><use href="#f" x="846" y="419"/><use href="#m" x="772" y="442"/><use href="#f" x="791" y="442"/><use href="#m" x="808" y="442"/><use href="#m" x="827" y="442"/><use href="#f" x="845" y="442"/><use href="#m" x="863" y="442"/><rect x="882.5" y="419.5" width="91" height="32" rx="3" fill="#d5d5fd" stroke="#000" stroke-width="1" shape-rendering="crispEdges"/><text x="928.0" y="429.0" transform="matrix(0.89,0,0,1,102.08,0)" text-anchor="middle">F258</text><text x="928.0" y="439.0" transform="matrix(0.89,0,0,1,102.08,0)" text-anchor="middle">BOYD = GREGG</text><use href="#m" x="902" y="420"/><use href="#f" x="949" y="420"/><use href="#f" x="904" y="443"/><use href="#m" x="947" y="443"/><rect x="976.5" y="417.5" width="88" height="32" rx="3" fill="#d5d5fd" stroke="#000" stroke-width="1" shape-rendering="crispEdges"/><text x="1020.5" y="427.0" transform="matrix(0.89,0,0,1,112.25,0)" text-anchor="middle">F24</text><text x="1020.5" y="437.0" transform="matrix(0.89,0,0,1,112.25,0)" text-anchor="middle">GREGG = LEES</text><use href="#m" x="995" y="418"/><use href="#f" x="1039" y="418"/><use href="#m" x="984" y="441"/><use href="#f" x="1001" y="441"/><use href="#m" x="1017" y="441"/><use href="#f" x="1033" y="441"/><use href="#m" x="1050" y="441"/><rect x="1075.5" y="419.5" width="117" height="32" rx="3" fill="#d5d5fd" stroke="#000" stroke-width="1" shape-rendering="crispEdges"/><text x="1134.0" y="429.0" transform="matrix(0.89,0,0,1,124.74,0)" text-anchor="middle">F62</text><text x="1134.0" y="439.0" transform="matrix(0.89,0,0,1,124.74,0)" text-anchor="middle">MCMILLAN = GREGG</text><use href="#m" x="1102" y="420"/><use href="#f" x="1159" y="420"/><use href="#m" x="1084" y="443"/><use href="#m" x="1097" y="443"/><use href="#f" x="1111" y="443"/><use href="#m" x="1125" y="443"/><use href="#m" x="1138" y="443"/><use href="#f" x="1152" y="443"/><use href="#m" x="1165" y="443"/><use href="#f" x="1179" y="443"/><rect x="1262.5" y="428.5" width="113" height="32" rx="3" fill="#d5d5fd" stroke="#000" stroke-width="1" shape-rendering="crispEdges"/><text x="1319.0" y="438.0" transform="matrix(0.89,0,0,1,145.09,0)" text-anchor="middle">F2</text><text x="1319.0" y="448.0" transform="matrix(0.89,0,0,1,145.09,0)" text-anchor="middle">GREIG = CALDWELL</text><use href="#m" x="1288" y="429"/><use href="#f" x="1344" y="429"/><use href="#f" x="1268" y="452"/><use href="#f" x="1281" y="452"/><use href="#f" x="1292" y="452"/><use href="#f" x="1305" y="452"/><use href="#m" x="1316" y="452"/><use href="#f" x="1328" y="452"/><use href="#m" x="1340" y="452"/><use href="#f" x="1352" y="452"/><use href="#m" x="1364" y="452"/><rect x="0.5" y="439.5" width="110" height="32" rx="3" fill="#d5d5fd" stroke="#000" stroke-width="1" shape-rendering="crispEdges"/><text x="55.5" y="449.0" transform="matrix(0.89,0,0,1,6.10,0)" text-anchor="middle">F575</text><text x="55.5" y="459.0" transform="matrix(0.89,0,0,1,6.10,0)" text-anchor="middle">GREGG = HAGGART</text><use href="#m" x="25" y="440"/><use href="#f" x="81" y="440"/><use href="#m" x="26" y="463"/><use href="#m" x="78" y="463"/><rect x="114.5" y="439.5" width="108" height="32" rx="3" fill="#d5d5fd" stroke="#000" stroke-width="1" shape-rendering="crispEdges"/><text x="168.5" y="449.0" transform="matrix(0.89,0,0,1,18.53,0)" text-anchor="middle">F177</text><text x="168.5" y="459.0" transform="matrix(0.89,0,0,1,18.53,0)" text-anchor="middle">GREGG = MCILROY</text><use href="#m" x="138" y="440"/><use href="#f" x="192" y="440"/><use href="#f" x="131" y="463"/><use href="#m" x="165" y="463"/><use href="#m" x="198" y="463"/><rect x="1288.5" y="484.5" width="86" height="33" rx="3" fill="#d5d5fd" stroke="#000" stroke-width="1" shape-rendering="crispEdges"/><text x="1331.5" y="494.0" transform="matrix(0.89,0,0,1,146.46,0)" text-anchor="middle">F543</text><text x="1331.5" y="504.0" transform="matrix(0.89,0,0,1,146.46,0)" text-anchor="middle">ROSS = GREIG</text><use href="#m" x="1306" y="485"/><use href="#f" x="1349" y="485"/><rect x="0.5" y="487.5" width="96" height="32" rx="3" fill="#d5d5fd" stroke="#000" stroke-width="1" shape-rendering="crispEdges"/><text x="48.5" y="497.0" transform="matrix(0.89,0,0,1,5.33,0)" text-anchor="middle">F495</text><text x="48.5" y="507.0" transform="matrix(0.89,0,0,1,5.33,0)" text-anchor="middle">GREGG = DOYLE</text><use href="#m" x="21" y="488"/><use href="#f" x="69" y="488"/><use href="#f" x="8" y="511"/><use href="#f" x="20" y="511"/><use href="#m" x="33" y="511"/><use href="#m" x="46" y="511"/><use href="#m" x="59" y="511"/><use href="#m" x="70" y="511"/><use href="#f" x="83" y="511"/><rect x="105.5" y="488.5" width="101" height="32" rx="3" fill="#d5d5fd" stroke="#000" stroke-width="1" shape-rendering="crispEdges"/><text x="156.0" y="498.0" transform="matrix(0.89,0,0,1,17.16,0)" text-anchor="middle">F576</text><text x="156.0" y="508.0" transform="matrix(0.89,0,0,1,17.16,0)" text-anchor="middle">GREGG = MILLER</text><use href="#m" x="127" y="489"/><use href="#f" x="176" y="489"/><use href="#m" x="130" y="512"/><use href="#m" x="176" y="512"/><rect x="211.5" y="487.5" width="122" height="32" rx="3" fill="#d5d5fd" stroke="#000" stroke-width="1" shape-rendering="crispEdges"/><text x="272.5" y="497.0" transform="matrix(0.89,0,0,1,29.97,0)" text-anchor="middle">F65</text><text x="272.5" y="507.0" transform="matrix(0.89,0,0,1,29.97,0)" text-anchor="middle">BROADFOOT = GREGG</text><use href="#m" x="239" y="488"/><use href="#f" x="300" y="488"/><rect x="335.5" y="487.5" width="86" height="32" rx="3" fill="#d5d5fd" stroke="#000" stroke-width="1" shape-rendering="crispEdges"/><text x="378.5" y="497.0" transform="matrix(0.89,0,0,1,41.63,0)" text-anchor="middle">F537</text><text x="378.5" y="507.0" transform="matrix(0.89,0,0,1,41.63,0)" text-anchor="middle">GREGG = JESS</text><use href="#m" x="353" y="488"/><use href="#f" x="398" y="488"/><use href="#m" x="342" y="511"/><use href="#m" x="354" y="511"/><use href="#m" x="364" y="511"/><use href="#f" x="376" y="511"/><use href="#f" x="387" y="511"/><use href="#m" x="398" y="511"/><use href="#f" x="409" y="511"/><rect x="421.5" y="490.5" width="85" height="32" rx="3" fill="#d5d5fd" stroke="#000" stroke-width="1" shape-rendering="crispEdges"/><text x="464.0" y="500.0" transform="matrix(0.89,0,0,1,51.04,0)" text-anchor="middle">F66</text><text x="464.0" y="510.0" transform="matrix(0.89,0,0,1,51.04,0)" text-anchor="middle">GREIG = ROSS</text><use href="#m" x="438" y="491"/><use href="#f" x="481" y="491"/><use href="#m" x="434" y="514"/><use href="#m" x="461" y="514"/><use href="#f" x="487" y="514"/><rect x="511.5" y="491.5" width="107" height="32" rx="3" fill="#d5d5fd" stroke="#000" stroke-width="1" shape-rendering="crispEdges"/><text x="565.0" y="501.0" transform="matrix(0.89,0,0,1,62.15,0)" text-anchor="middle">F401</text><text x="565.0" y="511.0" transform="matrix(0.89,0,0,1,62.15,0)" text-anchor="middle">KELLY = EDWARDS</text><use href="#m" x="535" y="492"/><use href="#f" x="590" y="492"/><use href="#m" x="520" y="515"/><use href="#f" x="537" y="515"/><use href="#f" x="554" y="515"/><use href="#m" x="570" y="515"/><use href="#m" x="588" y="515"/><use href="#f" x="604" y="515"/><rect x="620.5" y="490.5" width="115" height="32" rx="3" fill="#d5d5fd" stroke="#000" stroke-width="1" shape-rendering="crispEdges"/><text x="678.0" y="500.0" transform="matrix(0.89,0,0,1,74.58,0)" text-anchor="middle">F526</text><text x="678.0" y="510.0" transform="matrix(0.89,0,0,1,74.58,0)" text-anchor="middle">JOHNSTON = GREGG</text><use href="#m" x="647" y="491"/><use href="#f" x="704" y="491"/><rect x="738.5" y="490.5" width="127" height="32" rx="3" fill="#d5d5fd" stroke="#000" stroke-width="1" shape-rendering="crispEdges"/><text x="802.0" y="500.0" transform="matrix(0.89,0,0,1,88.22,0)" text-anchor="middle">F540</text><text x="802.0" y="510.0" transform="matrix(0.89,0,0,1,88.22,0)" text-anchor="middle">LAFFERTY = GREGG</text><use href="#m" x="767" y="491"/><use href="#f" x="830" y="491"/><use href="#m" x="744" y="514"/><use href="#m" x="754" y="514"/><use href="#m" x="765" y="514"/><use href="#m" x="776" y="514"/><use href="#f" x="788" y="514"/><use href="#m" x="798" y="514"/><use href="#m" x="810" y="514"/><use href="#m" x="820" y="514"/><use href="#f" x="832" y="514"/><use href="#f" x="842" y="514"/><use href="#m" x="853" y="514"/><rect x="869.5" y="489.5" width="127" height="32" rx="3" fill="#d5d5fd" stroke="#000" stroke-width="1" shape-rendering="crispEdges"/><text x="933.0" y="499.0" transform="matrix(0.89,0,0,1,102.63,0)" text-anchor="middle">F555</text><text x="933.0" y="509.0" transform="matrix(0.89,0,0,1,102.63,0)" text-anchor="middle">GREGG = MCCLATCHIE</text><use href="#m" x="898" y="490"/><use href="#f" x="960" y="490"/><use href="#m" x="880" y="513"/><use href="#f" x="900" y="513"/><use href="#f" x="920" y="513"/><use href="#m" x="940" y="513"/><use href="#m" x="960" y="513"/><use href="#m" x="978" y="513"/><rect x="997.5" y="490.5" width="121" height="32" rx="3" fill="#d5d5fd" stroke="#000" stroke-width="1" shape-rendering="crispEdges"/><text x="1058.0" y="500.0" transform="matrix(0.89,0,0,1,116.38,0)" text-anchor="middle">F554</text><text x="1058.0" y="510.0" transform="matrix(0.89,0,0,1,116.38,0)" text-anchor="middle">GREGG = MCLATCHIE</text><use href="#m" x="1024" y="491"/><use href="#f" x="1084" y="491"/><use href="#f" x="1027" y="514"/><use href="#f" x="1084" y="514"/><rect x="1121.5" y="489.5" width="110" height="32" rx="3" fill="#d5d5fd" stroke="#000" stroke-width="1" shape-rendering="crispEdges"/><text x="1176.5" y="499.0" transform="matrix(0.89,0,0,1,129.41,0)" text-anchor="middle">F63</text><text x="1176.5" y="509.0" transform="matrix(0.89,0,0,1,129.41,0)" text-anchor="middle">MCMILLAN = ROSS</text><use href="#m" x="1146" y="490"/><use href="#f" x="1200" y="490"/><use href="#f" x="1131" y="513"/><use href="#f" x="1148" y="513"/><use href="#m" x="1164" y="513"/><use href="#m" x="1182" y="513"/><use href="#m" x="1198" y="513"/><use href="#m" x="1216" y="513"/><rect x="0.5" y="536.5" width="115" height="32" rx="3" fill="#d5d5fd" stroke="#000" stroke-width="1" shape-rendering="crispEdges"/><text x="58.0" y="546.0" transform="matrix(0.89,0,0,1,6.38,0)" text-anchor="middle">F577</text><text x="58.0" y="556.0" transform="matrix(0.89,0,0,1,6.38,0)" text-anchor="middle">GREGG = JENNINGAN</text><use href="#m" x="25" y="537"/><use href="#f" x="83" y="537"/><use href="#m" x="19" y="560"/><use href="#f" x="55" y="560"/><use href="#m" x="92" y="560"/><rect x="314.5" y="536.5" width="100" height="32" rx="3" fill="#d5d5fd" stroke="#000" stroke-width="1" shape-rendering="crispEdges"/><text x="364.5" y="546.0" transform="matrix(0.89,0,0,1,40.09,0)" text-anchor="middle">F538</text><text x="364.5" y="556.0" transform="matrix(0.89,0,0,1,40.09,0)" text-anchor="middle">GREIG = MCMINN</text><use href="#m" x="336" y="537"/><use href="#f" x="385" y="537"/><use href="#m" x="323" y="560"/><use href="#f" x="338" y="560"/><use href="#f" x="354" y="560"/><use href="#f" x="369" y="560"/><use href="#m" x="384" y="560"/><use href="#f" x="398" y="560"/><rect x="847.5" y="542.5" width="104" height="32" rx="3" fill="#d5d5fd" stroke="#000" stroke-width="1" shape-rendering="crispEdges"/><text x="899.5" y="552.0" transform="matrix(0.89,0,0,1,98.94,0)" text-anchor="middle">F476</text><text x="899.5" y="562.0" transform="matrix(0.89,0,0,1,98.94,0)" text-anchor="middle">GREGG = MOONEY</text><use href="#m" x="869" y="543"/><use href="#f" x="923" y="543"/><use href="#f" x="858" y="566"/><use href="#f" x="876" y="566"/><use href="#m" x="896" y="566"/><use href="#f" x="916" y="566"/><use href="#f" x="935" y="566"/><rect x="959.5" y="543.5" width="108" height="32" rx="3" fill="#d5d5fd" stroke="#000" stroke-width="1" shape-rendering="crispEdges"/><text x="1013.5" y="553.0" transform="matrix(0.89,0,0,1,111.48,0)" text-anchor="middle">F255</text><text x="1013.5" y="563.0" transform="matrix(0.89,0,0,1,111.48,0)" text-anchor="middle">GILMOUR = GREGG</text><use href="#m" x="982" y="544"/><use href="#f" x="1038" y="544"/><rect x="1070.5" y="544.5" width="121" height="32" rx="3" fill="#d5d5fd" stroke="#000" stroke-width="1" shape-rendering="crispEdges"/><text x="1131.0" y="554.0" transform="matrix(0.89,0,0,1,124.41,0)" text-anchor="middle">F235</text><text x="1131.0" y="564.0" transform="matrix(0.89,0,0,1,124.41,0)" text-anchor="middle">UNIDENTIFIED = GREIG</text><use href="#m" x="1097" y="545"/><use href="#f" x="1157" y="545"/><use href="#m" x="1100" y="568"/><use href="#f" x="1157" y="568"/><rect x="1193.5" y="542.5" width="125" height="32" rx="3" fill="#d5d5fd" stroke="#000" stroke-width="1" shape-rendering="crispEdges"/><text x="1256.0" y="552.0" transform="matrix(0.89,0,0,1,138.16,0)" text-anchor="middle">F432</text><text x="1256.0" y="562.0" transform="matrix(0.89,0,0,1,138.16,0)" text-anchor="middle">ARMSTRONG = GREGG</text><use href="#m" x="1222" y="543"/><use href="#f" x="1284" y="543"/><use href="#f" x="1254" y="566"/><rect x="1282.5" y="553.5" width="94" height="32" rx="3" fill="#d5d5fd" stroke="#000" stroke-width="1" shape-rendering="crispEdges"/><text x="1329.5" y="563.0" transform="matrix(0.89,0,0,1,146.24,0)" text-anchor="middle">F561</text><text x="1329.5" y="573.0" transform="matrix(0.89,0,0,1,146.24,0)" text-anchor="middle">HARVIE = GREGG</text><use href="#m" x="1304" y="554"/><use href="#f" x="1352" y="554"/><rect x="1.5" y="591.5" width="101" height="32" rx="3" fill="#d5d5fd" stroke="#000" stroke-width="1" shape-rendering="crispEdges"/><text x="52.0" y="601.0" transform="matrix(0.89,0,0,1,5.72,0)" text-anchor="middle">F578</text><text x="52.0" y="611.0" transform="matrix(0.89,0,0,1,5.72,0)" text-anchor="middle">GREGG = SLOWIK</text><use href="#m" x="23" y="592"/><use href="#f" x="74" y="592"/><rect x="850.5" y="595.5" width="110" height="32" rx="3" fill="#d5d5fd" stroke="#000" stroke-width="1" shape-rendering="crispEdges"/><text x="905.5" y="605.0" transform="matrix(0.89,0,0,1,99.60,0)" text-anchor="middle">F626</text><text x="905.5" y="615.0" transform="matrix(0.89,0,0,1,99.60,0)" text-anchor="middle">GREGG = PEACOCK</text><use href="#m" x="875" y="596"/><use href="#f" x="928" y="596"/><rect x="1113.5" y="598.5" width="167" height="32" rx="3" fill="#d5d5fd" stroke="#000" stroke-width="1" shape-rendering="crispEdges"/><text x="1197.0" y="608.0" transform="matrix(0.89,0,0,1,131.67,0)" text-anchor="middle">F560</text><text x="1197.0" y="618.0" transform="matrix(0.89,0,0,1,131.67,0)" text-anchor="middle">ALLISON = GREGG/ARMSTRONG</text><use href="#m" x="1151" y="599"/><use href="#f" x="1234" y="599"/></svg>
</body></html>
